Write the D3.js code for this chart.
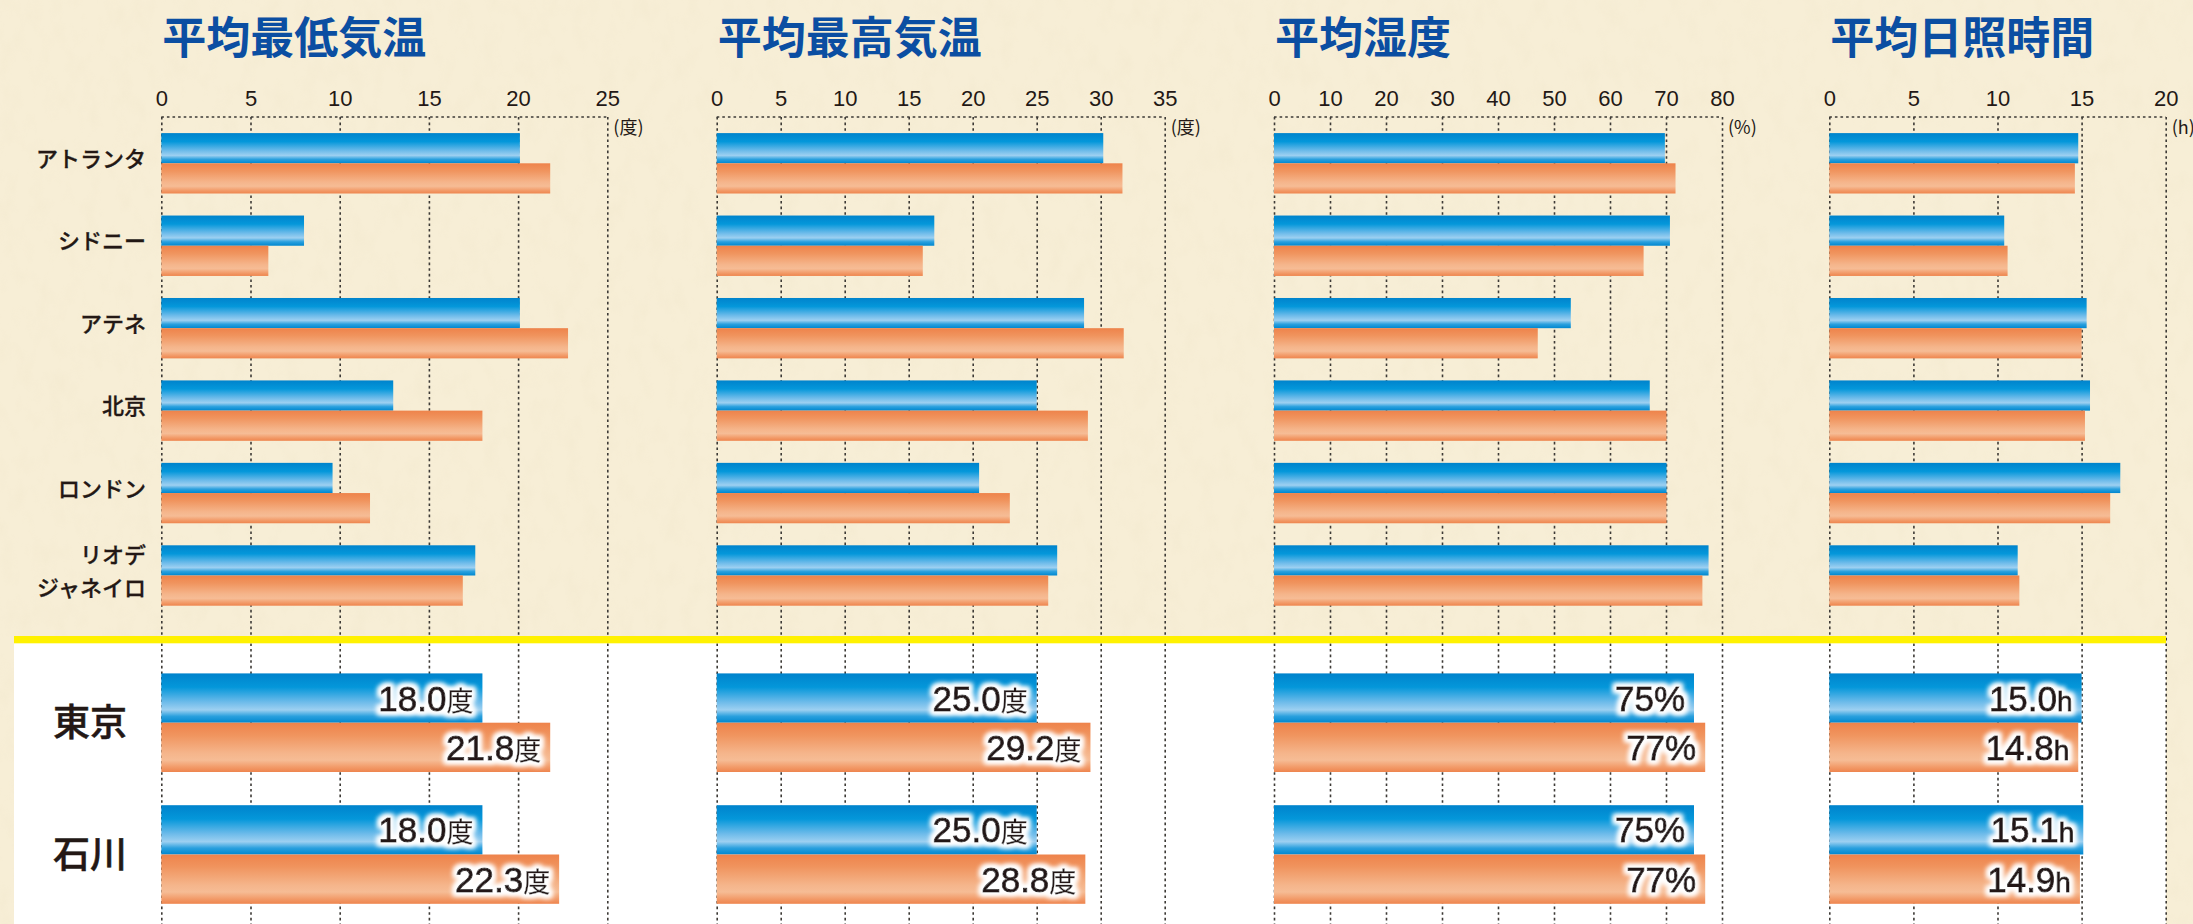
<!DOCTYPE html>
<html>
<head>
<meta charset="utf-8">
<script src="https://cdn.jsdelivr.net/npm/d3@7"></script>
<style>
  body { margin: 0; background: #f5ebd0; overflow: hidden; }
</style>
</head>
<body>
<div id="chart"></div>
<script>
// Categories
var cities = ["アトランタ", "シドニー", "アテネ", "北京", "ロンドン", "リオデ\nジャネイロ"];
var japan = ["東京", "石川"];

// Titles / units
var titles = ["平均最低気温", "平均最高気温", "平均湿度", "平均日照時間"];
var units = ["(度)", "(度)", "(%)", "(h)"];

// Tick labels
var ticksMinTemp = [0, 5, 10, 15, 20, 25];
var ticksMaxTemp = [0, 5, 10, 15, 20, 25, 30, 35];
var ticksHumidity = [0, 10, 20, 30, 40, 50, 60, 70, 80];
var ticksSun = [0, 5, 10, 15, 20];

// Overseas cities (blue / orange)
var minTempBlue = [20.1, 8.0, 20.1, 13.0, 9.6, 17.6];
var minTempOrange = [21.8, 6.0, 22.8, 18.0, 11.7, 16.9];
var maxTempBlue = [30.2, 17.0, 28.7, 25.0, 20.5, 26.6];
var maxTempOrange = [31.7, 16.1, 31.8, 29.0, 22.9, 25.9];
var humidityBlue = [69.8, 70.7, 53.0, 67.1, 70.1, 77.6];
var humidityOrange = [71.7, 66.0, 47.1, 70.1, 70.1, 76.5];
var sunBlue = [14.8, 10.4, 15.3, 15.5, 17.3, 11.2];
var sunOrange = [14.6, 10.6, 15.0, 15.2, 16.7, 11.3];

// Tokyo / Ishikawa (blue / orange)
var jpMinTempBlue = [18.0, 18.0];
var jpMinTempOrange = [21.8, 22.3];
var jpMaxTempBlue = [25.0, 25.0];
var jpMaxTempOrange = [29.2, 28.8];
var jpHumidityBlue = [75, 75];
var jpHumidityOrange = [77, 77];
var jpSunBlue = [15.0, 15.1];
var jpSunOrange = [14.8, 14.9];

// SVG
var svgWidth = 2193;
var svgHeight = 924;
var gridTop = 117;
var panelX = [161.3, 716.7, 1274, 1829.3];
var panelW = [446, 448, 448, 336.4];

var ink = "#231815";
var cjk = "'Noto Sans CJK JP', 'Noto Sans CJK SC', sans-serif";
var latin = "'Liberation Sans', Arial, sans-serif";

var fmtTemp = function (v) { return [v.toFixed(1), "度"]; };
var fmtHum = function (v) { return [d3.format("d")(v), "%"]; };
var fmtSun = function (v) { return [v.toFixed(1), "h"]; };

var panels = [
    { title: titles[0], unit: units[0], ticks: ticksMinTemp, top: [minTempBlue, minTempOrange], bottom: [jpMinTempBlue, jpMinTempOrange], fmt: fmtTemp },
    { title: titles[1], unit: units[1], ticks: ticksMaxTemp, top: [maxTempBlue, maxTempOrange], bottom: [jpMaxTempBlue, jpMaxTempOrange], fmt: fmtTemp },
    { title: titles[2], unit: units[2], ticks: ticksHumidity, top: [humidityBlue, humidityOrange], bottom: [jpHumidityBlue, jpHumidityOrange], fmt: fmtHum },
    { title: titles[3], unit: units[3], ticks: ticksSun, top: [sunBlue, sunOrange], bottom: [jpSunBlue, jpSunOrange], fmt: fmtSun }
];

var svg = d3.select("#chart")
    .append("svg")
    .attr("width", svgWidth)
    .attr("height", svgHeight);

var defs = svg.append("defs");

// Gradients
function addGradient(id, stops) {
    var g = defs.append("linearGradient")
        .attr("id", id)
        .attr("x1", 0).attr("y1", 0)
        .attr("x2", 0).attr("y2", 1);
    stops.forEach(s => {
        g.append("stop").attr("offset", s[0]).attr("stop-color", s[1]);
    });
}
addGradient("blueGrad", [[0, "#0083cc"], [0.28, "#0497da"], [0.58, "#6dbbea"], [0.74, "#9dd0f1"], [0.87, "#2aa0de"], [1, "#0087cf"]]);
addGradient("orangeGrad", [[0, "#ee834b"], [0.25, "#f0945e"], [0.62, "#f5b58b"], [0.76, "#f6bc95"], [0.9, "#f29b69"], [1, "#ee854e"]]);

// Glow behind labels
var glow = defs.append("filter")
    .attr("id", "glow")
    .attr("x", "-20%").attr("y", "-50%")
    .attr("width", "140%").attr("height", "200%");
glow.append("feMorphology").attr("in", "SourceAlpha").attr("operator", "dilate").attr("radius", 2.5).attr("result", "d");
glow.append("feGaussianBlur").attr("in", "d").attr("stdDeviation", 2.8).attr("result", "b");
glow.append("feFlood").attr("flood-color", "#ffffff");
glow.append("feComposite").attr("in2", "b").attr("operator", "in").attr("result", "g");
var merge = glow.append("feMerge");
merge.append("feMergeNode").attr("in", "g");
merge.append("feMergeNode").attr("in", "g");
merge.append("feMergeNode").attr("in", "SourceGraphic");

// Paper texture
var paper = defs.append("filter").attr("id", "paper");
paper.append("feTurbulence")
    .attr("type", "fractalNoise")
    .attr("baseFrequency", "0.06 0.035")
    .attr("numOctaves", 3)
    .attr("seed", 7);
paper.append("feColorMatrix")
    .attr("type", "matrix")
    .attr("values", "0 0 0 0 0.86  0 0 0 0 0.78  0 0 0 0 0.58  1.6 0 0 0 -0.72");

// Background
svg.append("rect")
    .attr("width", svgWidth).attr("height", svgHeight)
    .attr("fill", "#f7eed6");
svg.append("rect")
    .attr("width", svgWidth).attr("height", svgHeight)
    .attr("filter", "url(#paper)")
    .attr("opacity", 0.35);

// White lower section
svg.append("rect")
    .attr("x", 14).attr("y", 640)
    .attr("width", 2166 - 14).attr("height", svgHeight - 640)
    .attr("fill", "#ffffff");

// Scales for rows
var yTop = d3.scalePoint().domain(cities).range([163.3, 575.5]);
var yBottom = d3.scalePoint().domain(japan).range([722.7, 854.5]);
var topBarH = 30.2;
var bottomBarH = 49.3;
var barColors = ["url(#blueGrad)", "url(#orangeGrad)"];

var gridLayer = svg.append("g");
var barLayer = svg.append("g");

panels.forEach((p, i) => {
    var x = d3.scaleLinear()
        .domain(d3.extent(p.ticks))
        .range([panelX[i], panelX[i] + panelW[i]]);

    // Title
    svg.append("text")
        .attr("x", panelX[i] + 1)
        .attr("y", 54)
        .attr("font-family", cjk)
        .attr("font-weight", 700)
        .attr("font-size", 44)
        .attr("fill", "#0b4ea2")
        .text(p.title);

    // Tick labels
    var axisTop = svg.append("g")
        .attr("transform", `translate(0, ${gridTop})`)
        .call(d3.axisTop(x).tickValues(p.ticks).tickSize(0).tickPadding(11));
    axisTop.select(".domain").remove();
    axisTop.selectAll("text")
        .attr("font-family", latin)
        .attr("font-size", 22)
        .attr("fill", ink);

    // Grid
    var grid = gridLayer.append("g")
        .attr("transform", `translate(0, ${gridTop})`)
        .call(d3.axisBottom(x).tickValues(p.ticks).tickSize(svgHeight - gridTop).tickFormat(""));
    grid.select(".domain").remove();
    grid.selectAll("line")
        .attr("stroke", "#3d3a36")
        .attr("stroke-width", 1.6)
        .attr("stroke-dasharray", "2.6 3");
    gridLayer.append("line")
        .attr("x1", x.range()[0]).attr("x2", x.range()[1])
        .attr("y1", gridTop).attr("y2", gridTop)
        .attr("stroke", "#3d3a36")
        .attr("stroke-width", 1.6)
        .attr("stroke-dasharray", "2.6 3");

    // Unit label
    svg.append("text")
        .attr("x", x.range()[1] + 6)
        .attr("y", 134)
        .attr("font-family", cjk)
        .attr("font-size", 18)
        .attr("fill", ink)
        .text(p.unit);

    // Overseas bars
    p.top.forEach((series, s) => {
        barLayer.selectAll(null)
            .data(series)
            .enter()
            .append("rect")
            .attr("x", x(0))
            .attr("y", (d, k) => yTop(cities[k]) - (s === 0 ? topBarH : 0))
            .attr("width", d => x(d) - x(0))
            .attr("height", topBarH)
            .attr("fill", barColors[s]);
    });

    // Tokyo / Ishikawa bars
    p.bottom.forEach((series, s) => {
        var rows = barLayer.selectAll(null)
            .data(series)
            .enter()
            .append("g");

        rows.append("rect")
            .attr("x", x(0))
            .attr("y", (d, k) => yBottom(japan[k]) - (s === 0 ? bottomBarH : 0))
            .attr("width", d => x(d) - x(0))
            .attr("height", bottomBarH)
            .attr("fill", barColors[s]);

        var label = rows.append("text")
            .attr("x", d => x(d) - 9)
            .attr("y", (d, k) => yBottom(japan[k]) + (s === 0 ? -bottomBarH / 2 : bottomBarH / 2))
            .attr("dy", "0.36em")
            .attr("text-anchor", "end")
            .attr("font-family", latin)
            .attr("font-size", 35)
            .attr("fill", ink)
            .attr("stroke", ink)
            .attr("stroke-width", 0.9)
            .attr("filter", "url(#glow)");
        label.append("tspan").text(d => p.fmt(d)[0]);
        label.append("tspan")
            .attr("font-family", d => p.fmt(d)[1] === "度" ? cjk : latin)
            .attr("font-size", d => p.fmt(d)[1] === "%" ? 35 : (p.fmt(d)[1] === "h" ? 28 : 27))
            .attr("stroke-width", d => p.fmt(d)[1] === "度" ? 0.3 : 0.9)
            .text(d => p.fmt(d)[1]);
    });
});

// Yellow divider
svg.append("rect")
    .attr("x", 14).attr("y", 636)
    .attr("width", 2166 - 14).attr("height", 7.3)
    .attr("fill", "#fff100");

// City labels
var cityLabels = svg.append("g")
    .selectAll("text")
    .data(cities)
    .enter()
    .append("text")
    .attr("text-anchor", "end")
    .attr("font-family", cjk)
    .attr("font-weight", 500)
    .attr("font-size", 22)
    .attr("fill", ink)
    .attr("stroke", ink)
    .attr("stroke-width", 0.3);

cityLabels.each(function (d) {
    var lines = d.split("\n");
    var t = d3.select(this);
    lines.forEach((line, j) => {
        t.append("tspan")
            .attr("x", 146)
            .attr("y", yTop(d) - 4 + (j - (lines.length - 1) / 2) * 33)
            .attr("dy", "0.35em")
            .text(line);
    });
});

// Japan labels
svg.append("g")
    .selectAll("text")
    .data(japan)
    .enter()
    .append("text")
    .attr("x", 90)
    .attr("y", d => yBottom(d))
    .attr("dy", "0.36em")
    .attr("text-anchor", "middle")
    .attr("font-family", cjk)
    .attr("font-weight", 500)
    .attr("font-size", 37)
    .attr("fill", ink)
    .attr("stroke", ink)
    .attr("stroke-width", 0.5)
    .text(d => d);
</script>
</body>
</html>
